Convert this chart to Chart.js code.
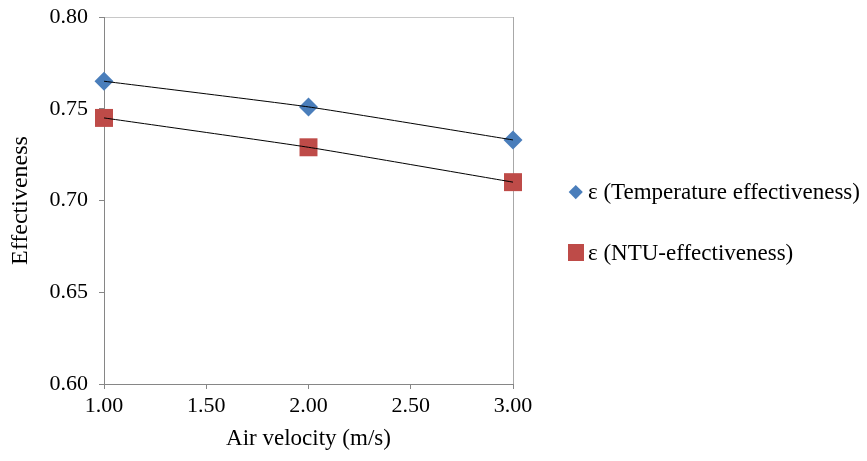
<!DOCTYPE html>
<html><head><meta charset="utf-8">
<script src="https://cdn.jsdelivr.net/npm/chart.js@4"></script>
<style>
html,body{margin:0;padding:0;background:#fff;}
#wrap{position:relative;width:867px;height:461px;overflow:hidden;}
#c{position:absolute;left:0;top:0;}
.leg{position:absolute;left:567px;height:30px;display:flex;align-items:center;font-family:"Liberation Serif","Times New Roman",serif;font-size:23px;color:#000;white-space:nowrap;}
.mk{width:18px;height:18px;position:relative;margin-right:3px;flex:none;}
.mk i{position:absolute;display:block;}
</style></head><body>
<div id="wrap"><canvas id="c" width="867" height="461"></canvas>
<div class="leg" style="top:176.5px"><span class="mk" id="mk1"><i></i></span><span id="t1"></span></div>
<div class="leg" style="top:237.5px"><span class="mk" id="mk2"><i></i></span><span id="t2"></span></div>
</div>
<script>
// ---- data ----
const airVelocity = [1.00, 2.00, 3.00];
const tempEffectiveness = [0.765, 0.751, 0.733];
const ntuEffectiveness = [0.745, 0.729, 0.710];
const seriesNames = ['ε (Temperature effectiveness)', 'ε (NTU-effectiveness)'];
const xTicks = [1.00, 1.50, 2.00, 2.50, 3.00];
const yTicks = [0.60, 0.65, 0.70, 0.75, 0.80];
const xTitle = 'Air velocity (m/s)';
const yTitle = 'Effectiveness';

const BLUE = '#4a7ebb';
const RED = '#be4b48';
const AXIS = '#868686';
const FONT = '"Liberation Serif", "Times New Roman", serif';

const pts = ys => airVelocity.map((x, i) => ({x, y: ys[i]}));

// legend (HTML)
document.getElementById('t1').textContent = seriesNames[0];
document.getElementById('t2').textContent = seriesNames[1];
const d = document.querySelector('#mk1 i');
Object.assign(d.style, {width:'9.5px', height:'9.5px', left:'4.25px', top:'4.25px', background:BLUE, transform:'rotate(45deg)'});
const s = document.querySelector('#mk2 i');
Object.assign(s.style, {width:'16.5px', height:'16.5px', left:'0.75px', top:'0.75px', background:RED});

const near = (a, b) => Math.abs(a - b) < 1e-9;

new Chart(document.getElementById('c'), {
  type: 'scatter',
  data: {
    datasets: [
      {label: seriesNames[0] + ' trend', data: pts(tempEffectiveness), showLine: true, borderColor: '#000', borderWidth: 1, pointRadius: 0, tension: 0.15, order: 0, clip: false},
      {label: seriesNames[1] + ' trend', data: pts(ntuEffectiveness), showLine: true, borderColor: '#000', borderWidth: 1, pointRadius: 0, tension: 0.15, order: 0, clip: false},
      {label: seriesNames[0], data: pts(tempEffectiveness), showLine: false, pointStyle: 'rectRot', pointRadius: 9.5, pointHoverRadius: 9.5, backgroundColor: BLUE, borderColor: BLUE, borderWidth: 0, order: 1, clip: false},
      {label: seriesNames[1], data: pts(ntuEffectiveness), showLine: false, pointStyle: 'rect', pointRadius: 12.7, pointHoverRadius: 12.7, backgroundColor: RED, borderColor: RED, borderWidth: 0, order: 1, clip: false}
    ]
  },
  options: {
    responsive: false,
    animation: false,
    events: [],
    layout: {padding: {top: 17, right: 354, bottom: 0, left: 0}},
    plugins: {legend: {display: false}, tooltip: {enabled: false}},
    scales: {
      x: {
        type: 'linear', min: xTicks[0], max: xTicks[xTicks.length - 1],
        afterBuildTicks: sc => { sc.ticks = xTicks.map(v => ({value: v})); },
        afterFit: sc => { sc.height = 77; sc.paddingLeft = 0; sc.paddingRight = 0; },
        ticks: {font: {family: FONT, size: 22}, color: '#000', padding: 4, maxRotation: 0, autoSkip: false, callback: v => Number(v).toFixed(2)},
        grid: {drawOnChartArea: true, drawTicks: true, tickLength: 5, tickColor: AXIS, color: c => (c.tick && near(c.tick.value, 3)) ? '#a8a8a8' : 'rgba(0,0,0,0)'},
        border: {display: true, color: AXIS, width: 1},
        title: {display: true, text: xTitle, font: {family: FONT, size: 23}, color: '#000', padding: {top: 0, bottom: 8}}
      },
      y: {
        type: 'linear', min: yTicks[0], max: yTicks[yTicks.length - 1],
        afterBuildTicks: sc => { sc.ticks = yTicks.map(v => ({value: v})); },
        afterFit: sc => { sc.width = 104; sc.paddingTop = 0; sc.paddingBottom = 0; },
        ticks: {font: {family: FONT, size: 22}, color: '#000', padding: 11, autoSkip: false, callback: v => Number(v).toFixed(2)},
        grid: {drawOnChartArea: true, drawTicks: true, tickLength: 5, tickColor: AXIS, color: c => (c.tick && near(c.tick.value, 0.8)) ? '#c8c8c8' : 'rgba(0,0,0,0)'},
        border: {display: true, color: AXIS, width: 1},
        title: {display: true, text: yTitle, font: {family: FONT, size: 24}, color: '#000', padding: {top: 6, bottom: 0}}
      }
    }
  }
});
</script>
</body></html>
